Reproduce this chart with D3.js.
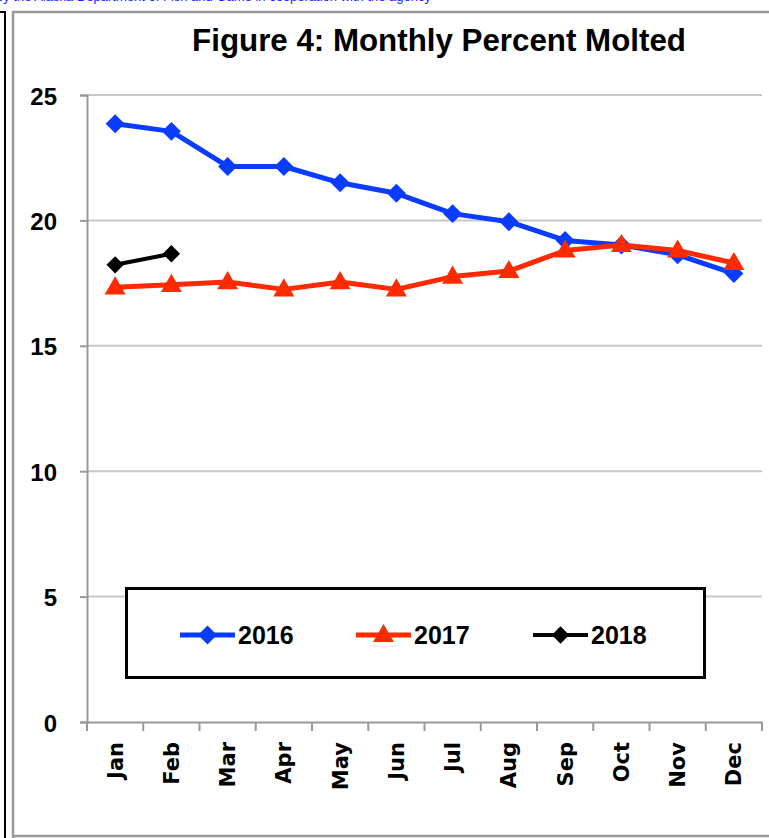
<!DOCTYPE html>
<html>
<head>
<meta charset="utf-8">
<script src="https://cdn.jsdelivr.net/npm/d3@7"></script>
<style>
  html, body { margin: 0; padding: 0; background: #fff; }
  svg { display: block; }
</style>
</head>
<body>
<svg id="chart" width="769" height="838"></svg>
<script>
const months = ["Jan","Feb","Mar","Apr","May","Jun","Jul","Aug","Sep","Oct","Nov","Dec"];
const values2016 = [23.85, 23.55, 22.15, 22.15, 21.5, 21.08, 20.27, 19.95, 19.2, 19.02, 18.63, 17.88];
const values2017 = [17.33, 17.43, 17.54, 17.25, 17.54, 17.25, 17.76, 17.98, 18.8, 19.02, 18.8, 18.3];
const values2018 = [18.23, 18.67];
const yTicks = [0, 5, 10, 15, 20, 25];
const seriesNames = ["2016", "2017", "2018"];
const titleText = "Figure 4: Monthly Percent Molted";

(function () {
const series = [
  { name: seriesNames[0], values: values2016, color: "#0a3cff", width: 5, marker: "diamond", msize: 180 },
  { name: seriesNames[1], values: values2017, color: "#ff2a00", width: 5, marker: "triangle", msize: 190 },
  { name: seriesNames[2], values: values2018, color: "#000000", width: 4, marker: "diamond", msize: 150 }
];

const svg = d3.select("#chart");

// partially visible blue text at the very top (cut off in the reference)
svg.append("text")
  .attr("x", -4).attr("y", 1)
  .attr("fill", "#1a1aff")
  .style("font-family", "Liberation Sans, Arial, sans-serif")
  .style("font-size", "13px")
  .text("by the Alaska Department of Fish and Game in cooperation with the agency");

// outer frames
svg.append("path").attr("d", "M0,12 H5 V838").attr("fill", "none").attr("stroke", "#000").attr("stroke-width", 2);
svg.append("path").attr("d", "M13,838 V12 H769").attr("fill", "none").attr("stroke", "#999").attr("stroke-width", 2.5);
svg.append("line").attr("x1", 13).attr("x2", 769).attr("y1", 836).attr("y2", 836).attr("stroke", "#999").attr("stroke-width", 2.5);

const pLeft = 87, pRight = 762, pTop = 95, pBottom = 722;
const x = d3.scaleBand().domain(months).range([pLeft, pRight]);
const y = d3.scaleLinear().domain([0, 25]).range([pBottom, pTop]);

// title
const title = svg.append("text")
  .attr("x", 439).attr("y", 51)
  .attr("text-anchor", "middle")
  .style("font-family", "Liberation Sans, Arial, sans-serif")
  .style("font-weight", "bold")
  .style("font-size", "26px")
  .attr("fill", "#000")
  .text(titleText);
{
  const w = title.node().getComputedTextLength();
  title.style("font-size", (26 * 494 / w).toFixed(2) + "px");
}

// gridlines
svg.append("g")
  .selectAll("line")
  .data(yTicks.filter(d => d > 0))
  .join("line")
  .attr("x1", pLeft).attr("x2", pRight)
  .attr("y1", d => y(d)).attr("y2", d => y(d))
  .attr("stroke", "#c8c8c8").attr("stroke-width", 2);

// y axis
const yAxis = svg.append("g")
  .attr("transform", `translate(${pLeft},0)`)
  .call(d3.axisLeft(y).tickValues(yTicks).tickSize(7).tickPadding(23).tickFormat(d3.format("d")));
yAxis.select(".domain").attr("stroke", "#999").attr("stroke-width", 2);
yAxis.selectAll(".tick line").attr("stroke", "#999").attr("stroke-width", 2);
yAxis.selectAll(".tick text")
  .style("font-family", "Liberation Sans, Arial, sans-serif")
  .style("font-weight", "bold")
  .style("font-size", "24px")
  .attr("fill", "#000")
  .attr("dy", "0.38em");

// x axis
const xAxis = svg.append("g")
  .attr("transform", `translate(0,${pBottom})`)
  .call(d3.axisBottom(x).tickSize(0).tickPadding(0));
xAxis.select(".domain").attr("stroke", "#999").attr("stroke-width", 2);
xAxis.selectAll(".tick text")
  .attr("transform", "rotate(-90)")
  .attr("x", -20).attr("y", 0).attr("dy", "0.36em")
  .style("text-anchor", "end")
  .style("font-family", "DejaVu Sans, Verdana, sans-serif")
  .style("font-weight", "bold")
  .style("font-size", "21px")
  .attr("fill", "#000");
xAxis.append("g")
  .selectAll("line")
  .data(months.map(m => x(m)).concat([pRight]))
  .join("line")
  .attr("x1", d => d).attr("x2", d => d)
  .attr("y1", 0).attr("y2", 9)
  .attr("stroke", "#999").attr("stroke-width", 2);

// lines & markers
const line = d3.line().x((d, i) => x(months[i]) + x.bandwidth() / 2).y(d => y(d));
function markerPath(s) {
  if (s.marker === "triangle") return d3.symbol().type(d3.symbolTriangle).size(s.msize)();
  return d3.symbol().type(d3.symbolSquare).size(s.msize)();
}
function markerTransform(s, cx, cy) {
  return s.marker === "diamond" ? `translate(${cx},${cy}) rotate(45)` : `translate(${cx},${cy + 1})`;
}
series.forEach(s => {
  const g = svg.append("g");
  g.append("path").datum(s.values)
    .attr("d", line)
    .attr("fill", "none")
    .attr("stroke", s.color)
    .attr("stroke-width", s.width)
    .attr("stroke-linejoin", "round");
  g.selectAll("path.m").data(s.values).join("path")
    .attr("class", "m")
    .attr("d", markerPath(s))
    .attr("transform", (d, i) => markerTransform(s, x(months[i]) + x.bandwidth() / 2, y(d)))
    .attr("fill", s.color);
});

// legend
const lg = svg.append("g");
lg.append("rect")
  .attr("x", 126.5).attr("y", 588.5).attr("width", 578).attr("height", 89)
  .attr("fill", "#fff").attr("stroke", "#000").attr("stroke-width", 3);
const legendX = [180, 356, 533];
series.forEach((s, i) => {
  const gx = legendX[i], gy = 635;
  lg.append("line").attr("x1", gx).attr("x2", gx + 55).attr("y1", gy).attr("y2", gy)
    .attr("stroke", s.color).attr("stroke-width", s.width);
  lg.append("path").attr("d", markerPath(s))
    .attr("transform", markerTransform(s, gx + 27.5, gy))
    .attr("fill", s.color);
  lg.append("text").attr("x", gx + 58).attr("y", gy).attr("dy", "0.36em")
    .style("font-family", "Liberation Sans, Arial, sans-serif")
    .style("font-weight", "bold")
    .style("font-size", "25px")
    .attr("fill", "#000")
    .text(s.name);
});
})();
</script>
</body>
</html>
